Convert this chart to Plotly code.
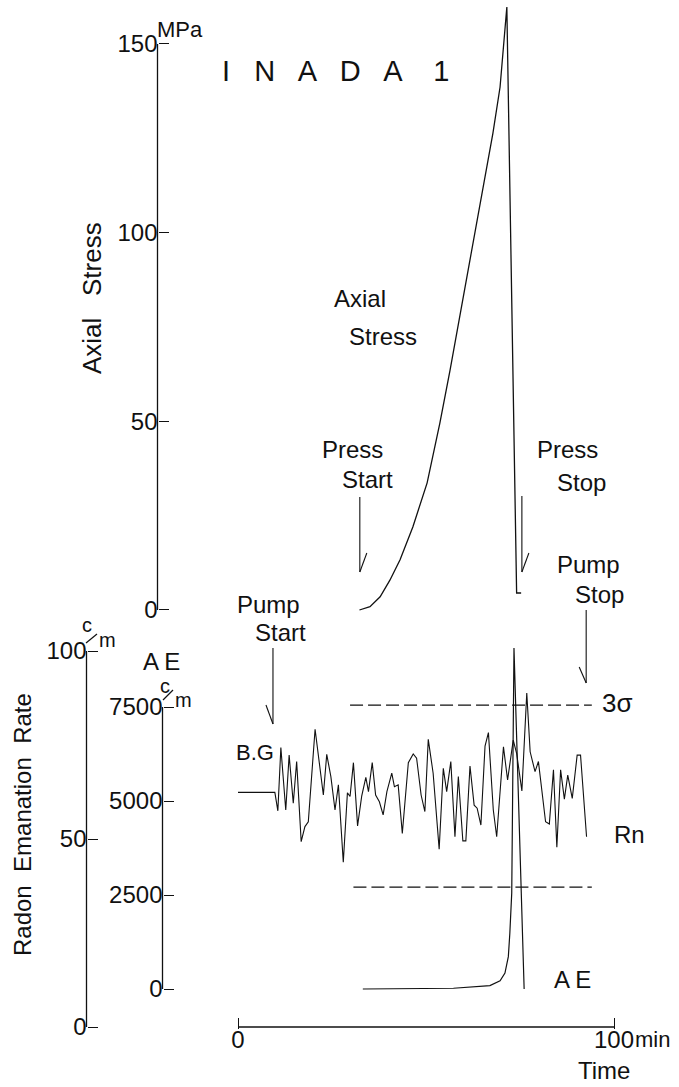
import plotly.graph_objects as go

W, H = 679, 1087

# ---- data -------------------------------------------------------------
# axial stress (MPa) vs time (min)
stress_t = [32.3, 35.1, 37.8, 40.4, 43.1, 46.5, 50.3, 53.7, 56.4, 60.9,
            64.4, 67.8, 69.7, 71.5, 74.1, 75.3]
stress_mpa = [0.0, 0.9, 3.5, 7.9, 13.3, 22.0, 33.7, 49.6, 63.6, 88.3,
              106.8, 126.4, 138.6, 159.8, 4.5, 4.5]

# radon emanation rate (c/m) vs time (min)
rn_t = [0.0, 9.8, 10.6, 11.4, 12.7, 13.6, 14.7, 15.6, 16.8, 17.8, 18.7,
        20.5, 22.7, 23.6, 24.7, 25.8, 26.7, 28.0, 29.1, 29.8, 30.7, 31.8,
        32.9, 34.0, 34.7, 35.7, 36.6, 37.6, 38.6, 39.6, 40.9, 41.6, 42.6,
        43.7, 45.3, 46.6, 47.5, 48.7, 49.7, 50.6, 51.9, 53.5, 54.6, 55.5,
        56.6, 57.7, 58.6, 59.8, 60.6, 61.7, 62.8, 63.6, 64.6, 65.7, 66.6,
        67.9, 68.8, 70.6, 71.7, 73.2, 74.1, 75.5, 76.8, 77.7, 79.0, 79.9,
        81.8, 82.8, 83.9, 84.8, 85.8, 86.8, 87.7, 88.9, 90.2, 91.1, 92.7]
rn_cpm = [62.4, 62.4, 57.5, 74.3, 57.7, 72.3, 59.5, 70.6, 49.3, 53.3, 54.6,
          79.2, 61.7, 72.5, 66.6, 57.7, 64.4, 43.8, 62.3, 61.3, 70.3, 53.5,
          61.4, 66.4, 62.6, 70.3, 61.7, 59.9, 56.4, 62.6, 67.5, 63.9, 64.4,
          51.5, 70.3, 72.6, 71.5, 61.7, 57.3, 76.5, 67.5, 47.3, 68.8, 62.6,
          70.6, 50.6, 66.6, 49.5, 49.5, 69.4, 59.0, 58.2, 53.7, 74.7, 78.3,
          57.7, 50.6, 74.5, 65.7, 76.3, 72.8, 62.8, 88.8, 73.2, 67.9, 70.6,
          54.6, 54.0, 68.4, 47.8, 68.4, 60.6, 67.0, 60.8, 72.3, 72.3, 50.6]

# acoustic emission count rate (c/m) vs time (min)
ae_t = [33.2, 57.3, 67.0, 69.7, 71.0, 71.9, 72.3, 72.8, 73.4, 76.1]
ae_cpm = [0, 20, 90, 220, 425, 860, 1490, 2550, 9070, 0]

# Rn background +3 sigma / -3 sigma levels
sigma_hi, sigma_hi_t = 85.6, [29.8, 94.1]
sigma_lo, sigma_lo_t = 37.2, [30.7, 94.1]

# event times (min)
event_names = ["Pump Start", "Press Start", "Press Stop", "Pump Stop"]
event_t = [9.3, 32.4, 75.5, 92.6]

# axis ticks
stress_ticks = [0, 50, 100, 150]
rn_ticks = [0, 50, 100]
ae_ticks = [0, 2500, 5000, 7500]
time_ticks = [0, 100]
time_ticktext = ["0", "100"]

# ---- layout helpers ---------------------------------------------------
def px(x):
    return x / W


def py(y):
    return 1 - y / H


FONT = "Liberation Sans, Arial, sans-serif"
INK = "#111111"
PAD = 2.0                             # px of slack so end ticks are kept

T_PX = (614 - 238) / 100.0            # pixels per minute
STRESS_MAX = 161.5
STRESS_PX = (610 - 44) / 150.0        # pixels per MPa
RN_PX = (1027 - 651) / 100.0          # pixels per c/m (radon)
AE_MAX = 9500
AE_PX = (989 - 707) / 7500.0          # pixels per c/m (AE)

fig = go.Figure()

fig.add_trace(go.Scatter(x=stress_t, y=stress_mpa, mode="lines",
                         line=dict(color=INK, width=1.3), xaxis="x", yaxis="y"))
fig.add_trace(go.Scatter(x=rn_t, y=rn_cpm, mode="lines",
                         line=dict(color=INK, width=1.1), xaxis="x", yaxis="y2"))
fig.add_trace(go.Scatter(x=sigma_hi_t, y=[sigma_hi] * 2, mode="lines",
                         line=dict(color=INK, width=1.1, dash="13px,5px"),
                         xaxis="x", yaxis="y2"))
fig.add_trace(go.Scatter(x=sigma_lo_t, y=[sigma_lo] * 2, mode="lines",
                         line=dict(color=INK, width=1.1, dash="13px,5px"),
                         xaxis="x", yaxis="y2"))
fig.add_trace(go.Scatter(x=ae_t, y=ae_cpm, mode="lines",
                         line=dict(color=INK, width=1.2), xaxis="x", yaxis="y3"))

tickfont = dict(family=FONT, size=24, color=INK)
common_y = dict(showgrid=False, zeroline=False, showline=False,
                ticks="inside", ticklen=10, tickwidth=1.3, tickcolor=INK,
                tickfont=tickfont, anchor="free", side="left",
                fixedrange=True, automargin=False)

fig.update_layout(
    width=W, height=H,
    margin=dict(l=0, r=0, t=0, b=0, pad=0),
    paper_bgcolor="white", plot_bgcolor="rgba(0,0,0,0)",
    showlegend=False,
    xaxis=dict(domain=[px(238 - PAD), px(614 + PAD)],
               range=[-PAD / T_PX, 100 + PAD / T_PX], anchor="y2",
               showgrid=False, zeroline=False, showline=False, automargin=False,
               ticks="inside", ticklen=11, tickwidth=1.3, tickcolor=INK,
               ticklabelstandoff=-6,
               tickvals=time_ticks, ticktext=time_ticktext, tickfont=tickfont),
    yaxis=dict(common_y, domain=[py(610 + PAD), py(610 - STRESS_MAX * STRESS_PX)],
               range=[-PAD / STRESS_PX, STRESS_MAX], position=px(157.5),
               tickvals=stress_ticks),
    yaxis2=dict(common_y, domain=[py(1027 + PAD), py(651 - PAD)],
                range=[-PAD / RN_PX, 100 + PAD / RN_PX],
                position=px(86.5), tickvals=rn_ticks),
    yaxis3=dict(common_y, domain=[py(989 + PAD), py(989 - AE_MAX * AE_PX)],
                range=[-PAD / AE_PX, AE_MAX], position=px(162.5),
                tickvals=ae_ticks),
)

axis_line = dict(color=INK, width=1.3)
shapes = [
    # axis spines over the labelled span of each scale
    dict(type="line", xref="paper", yref="y", x0=px(157.5), x1=px(157.5),
         y0=0, y1=stress_ticks[-1], line=axis_line),
    dict(type="line", xref="paper", yref="y2", x0=px(86.5), x1=px(86.5),
         y0=0, y1=rn_ticks[-1], line=axis_line),
    dict(type="line", xref="paper", yref="y3", x0=px(162.5), x1=px(162.5),
         y0=0, y1=ae_ticks[-1], line=axis_line),
    dict(type="line", xref="x", yref="y2", x0=time_ticks[0], x1=time_ticks[-1],
         y0=0, y1=0, line=axis_line),
]

# event arrows: (top, bottom, barb start y) in pixels, barb side
arrow_geom = [(648, 724, 705, -1), (497, 572, 553, 1),
              (496, 572, 553, 1), (610, 683, 667, -1)]
barb_dt = 7 / T_PX
for t, (top, bot, by, side) in zip(event_t, arrow_geom):
    shapes.append(dict(type="line", xref="x", yref="paper", x0=t, x1=t,
                       y0=py(top), y1=py(bot), line=dict(color=INK, width=1.1)))
    shapes.append(dict(type="line", xref="x", yref="paper", x0=t + side * barb_dt,
                       x1=t, y0=py(by), y1=py(bot), line=dict(color=INK, width=1.1)))

# slash of the c/m unit marks
for (sx0, sy0, sx1, sy1) in [(86, 643, 97, 634), (163, 700, 173, 690)]:
    shapes.append(dict(type="line", xref="paper", yref="paper",
                       x0=px(sx0), y0=py(sy0), x1=px(sx1), y1=py(sy1),
                       line=dict(color=INK, width=1.2)))

fig.update_layout(shapes=shapes)

ann = []


def label(text, x, y, size=24, anchor="left", angle=0):
    ann.append(dict(text=text, x=px(x), y=py(y), xref="paper", yref="paper",
                    xanchor=anchor, yanchor="middle", showarrow=False,
                    textangle=angle, font=dict(family=FONT, size=size, color=INK)))


label("I   N   A   D   A    1", 335, 71, size=29, anchor="center")
label("MPa", 155, 29, size=22)
label("Axial", 332, 298)
label("Stress", 347, 336)
label("Press", 320, 450)
label("Start", 340, 479)
label("Press", 535, 450)
label("Stop", 555, 482)
label("Pump", 555, 564)
label("Stop", 573, 594)
label("Pump", 235, 604)
label("Start", 253, 632)
label("B.G", 234, 753, size=22)
label("3σ", 600, 703, size=26)
label("Rn", 612, 834)
label("A E", 552, 979)
label("A E", 141, 661)
label("min", 633, 1039, size=22)
label("Time", 576, 1070)
label("c", 87, 625, size=20, anchor="center")
label("m", 107, 640, size=20, anchor="center")
label("c", 165, 686, size=20, anchor="center")
label("m", 183, 700, size=20, anchor="center")
label("Axial   Stress", 92, 298, size=26, anchor="center", angle=-90)
label("Radon  Emanation  Rate", 22, 825, size=24, anchor="center", angle=-90)

fig.update_layout(annotations=ann)

fig.write_html("out.html",
               post_script="document.body.style.margin='0';"
                           "document.body.style.overflow='hidden';")
